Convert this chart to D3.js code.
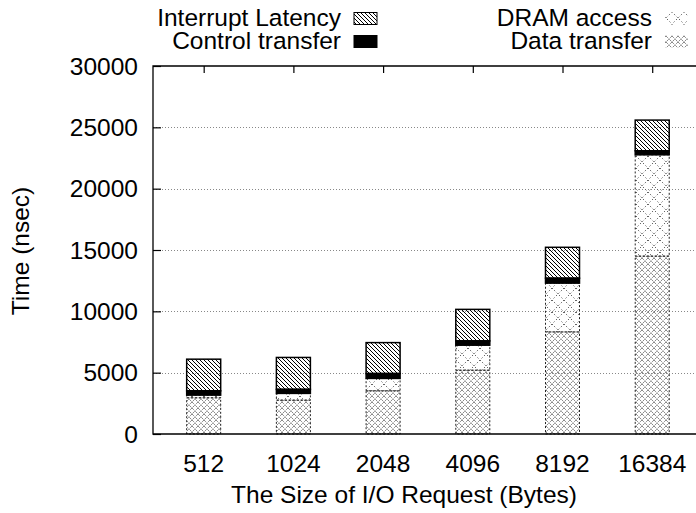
<!DOCTYPE html>
<html>
<head>
<meta charset="utf-8">
<script src="https://cdn.jsdelivr.net/npm/d3@7"></script>
<style>
  body { margin: 0; background: #fff; }
  svg { display: block; }
</style>
</head>
<body>
<div id="chart"></div>
<script>
// values (nsec)
const sizes = ["512", "1024", "2048", "4096", "8192", "16384"];
const dataTransfer = [2950, 2760, 3520, 5200, 8320, 14500];
const dramAccess = [220, 550, 1010, 2040, 3980, 8260];
const controlTransfer = [350, 330, 400, 350, 400, 330];
const interruptLatency = [2580, 2600, 2520, 2570, 2520, 2500];
const yTicks = [0, 5000, 10000, 15000, 20000, 25000, 30000];

const seriesKeys = ["data", "dram", "control", "interrupt"];
const seriesNames = {
    data: "Data transfer",
    dram: "DRAM access",
    control: "Control transfer",
    interrupt: "Interrupt Latency"
};

const attrs = {
    svgWidth: 696,
    svgHeight: 513,
    plotLeft: 153,
    plotRight: 695,
    plotTop: 66,
    plotBottom: 434,
    barWidth: 34,
    font: "'Liberation Sans', Helvetica, Arial, sans-serif",
    fontSize: 24.5
};

const rows = sizes.map((s, i) => ({
    size: s,
    i: i,
    data: dataTransfer[i],
    dram: dramAccess[i],
    control: controlTransfer[i],
    interrupt: interruptLatency[i]
}));

const svg = d3.select("#chart").append("svg")
    .attr("width", attrs.svgWidth)
    .attr("height", attrs.svgHeight)
    .attr("font-family", attrs.font)
    .attr("font-size", attrs.fontSize);

// fill patterns, gnuplot style
const defs = svg.append("defs");

const pData = defs.append("pattern")
    .attr("id", "pat-data")
    .attr("patternUnits", "userSpaceOnUse")
    .attr("width", 6).attr("height", 6);
pData.append("path")
    .attr("d", "M0,0L6,6M6,0L0,6")
    .attr("stroke", "#444")
    .attr("stroke-width", 0.9)
    .attr("stroke-dasharray", "1,1")
    .attr("fill", "none");

const pDram = defs.append("pattern")
    .attr("id", "pat-dram")
    .attr("patternUnits", "userSpaceOnUse")
    .attr("width", 12).attr("height", 12);
pDram.append("path")
    .attr("d", "M0,0L12,12M12,0L0,12")
    .attr("stroke", "#222")
    .attr("stroke-width", 1)
    .attr("stroke-dasharray", "1,2.4")
    .attr("fill", "none");

const pInt = defs.append("pattern")
    .attr("id", "pat-int")
    .attr("patternUnits", "userSpaceOnUse")
    .attr("width", 4).attr("height", 4);
pInt.append("path")
    .attr("d", "M0,0L4,4M-1,3L1,5M3,-1L5,1")
    .attr("stroke", "#000")
    .attr("stroke-width", 1)
    .attr("fill", "none");

const fills = {
    data: "url(#pat-data)",
    dram: "url(#pat-dram)",
    control: "#000",
    interrupt: "url(#pat-int)"
};
const borders = {
    data: { stroke: "#222", width: 1, dash: "2,2" },
    dram: { stroke: "#222", width: 1, dash: "2,2" },
    control: { stroke: "#000", width: 1.5, dash: null },
    interrupt: { stroke: "#000", width: 1.5, dash: null }
};

// scales
const x = d3.scaleLinear()
    .domain([-0.565, 5.477])
    .range([attrs.plotLeft, attrs.plotRight]);

const y = d3.scaleLinear()
    .domain([0, 30000])
    .range([attrs.plotBottom, attrs.plotTop]);

// grid
svg.append("g")
    .selectAll("line")
    .data(yTicks.filter(t => t > 0 && t < 30000))
    .join("line")
    .attr("x1", attrs.plotLeft)
    .attr("x2", attrs.svgWidth)
    .attr("y1", d => Math.round(y(d)) + 0.5)
    .attr("y2", d => Math.round(y(d)) + 0.5)
    .attr("stroke", "#888")
    .attr("stroke-width", 1)
    .attr("stroke-dasharray", "1,2");

// stacked bars
const stacked = d3.stack().keys(seriesKeys)(rows);

const layers = svg.append("g")
    .selectAll("g")
    .data(stacked)
    .join("g");

layers.selectAll("rect")
    .data(layer => layer.map(d => ({ key: layer.key, y0: d[0], y1: d[1], i: d.data.i })))
    .join("rect")
    .attr("x", d => x(d.i) - attrs.barWidth / 2)
    .attr("width", attrs.barWidth)
    .attr("y", d => y(d.y1))
    .attr("height", d => y(d.y0) - y(d.y1))
    .attr("fill", d => fills[d.key])
    .attr("stroke", d => borders[d.key].stroke)
    .attr("stroke-width", d => borders[d.key].width)
    .attr("stroke-dasharray", d => borders[d.key].dash);

// frame
const frame = svg.append("g")
    .attr("stroke", "#000")
    .attr("stroke-width", 1.3)
    .attr("fill", "none");
frame.append("path")
    .attr("d", `M${attrs.svgWidth + 2},${attrs.plotTop}H${attrs.plotLeft}V${attrs.plotBottom}H${attrs.svgWidth + 2}`);

// y axis with inward ticks
const yAxis = svg.append("g")
    .attr("transform", `translate(${attrs.plotLeft},0)`)
    .call(d3.axisRight(y).tickValues(yTicks).tickSize(8).tickFormat(""));
yAxis.select(".domain").remove();
yAxis.selectAll("line").attr("stroke", "#000").attr("stroke-width", 1.2);

svg.append("g")
    .selectAll("text")
    .data(yTicks)
    .join("text")
    .attr("x", 138)
    .attr("y", d => y(d) + 8.5)
    .attr("text-anchor", "end")
    .text(d => d);

// x ticks on the top border (mirrored), labels below
const xTop = svg.append("g")
    .attr("transform", `translate(0,${attrs.plotTop})`)
    .call(d3.axisBottom(x).tickValues(d3.range(sizes.length)).tickSize(7).tickFormat(""));
xTop.select(".domain").remove();
xTop.selectAll("line").attr("stroke", "#000").attr("stroke-width", 1.2);

svg.append("g")
    .selectAll("text")
    .data(rows)
    .join("text")
    .attr("x", d => x(d.i))
    .attr("y", 472)
    .attr("text-anchor", "middle")
    .text(d => d.size);

// axis titles
svg.append("text")
    .attr("x", 404)
    .attr("y", 503)
    .attr("text-anchor", "middle")
    .text("The Size of I/O Request (Bytes)");

svg.append("text")
    .attr("transform", "translate(29,251) rotate(-90)")
    .attr("text-anchor", "middle")
    .text("Time (nsec)");

// legend
const legendItems = [
    { key: "interrupt", tx: 341, ty: 26 },
    { key: "control", tx: 341, ty: 49 },
    { key: "dram", tx: 652, ty: 26 },
    { key: "data", tx: 652, ty: 49 }
];
const legend = svg.append("g")
    .selectAll("g")
    .data(legendItems)
    .join("g");
legend.append("text")
    .attr("x", d => d.tx)
    .attr("y", d => d.ty)
    .attr("text-anchor", "end")
    .text(d => seriesNames[d.key]);
legend.append("rect")
    .attr("x", d => d.tx + 13)
    .attr("y", d => d.ty - 13.5)
    .attr("width", 23)
    .attr("height", 12)
    .attr("fill", d => fills[d.key])
    .attr("stroke", d => d.key === "control" || d.key === "interrupt" ? "#000" : "none")
    .attr("stroke-width", 1);
</script>
</body>
</html>
